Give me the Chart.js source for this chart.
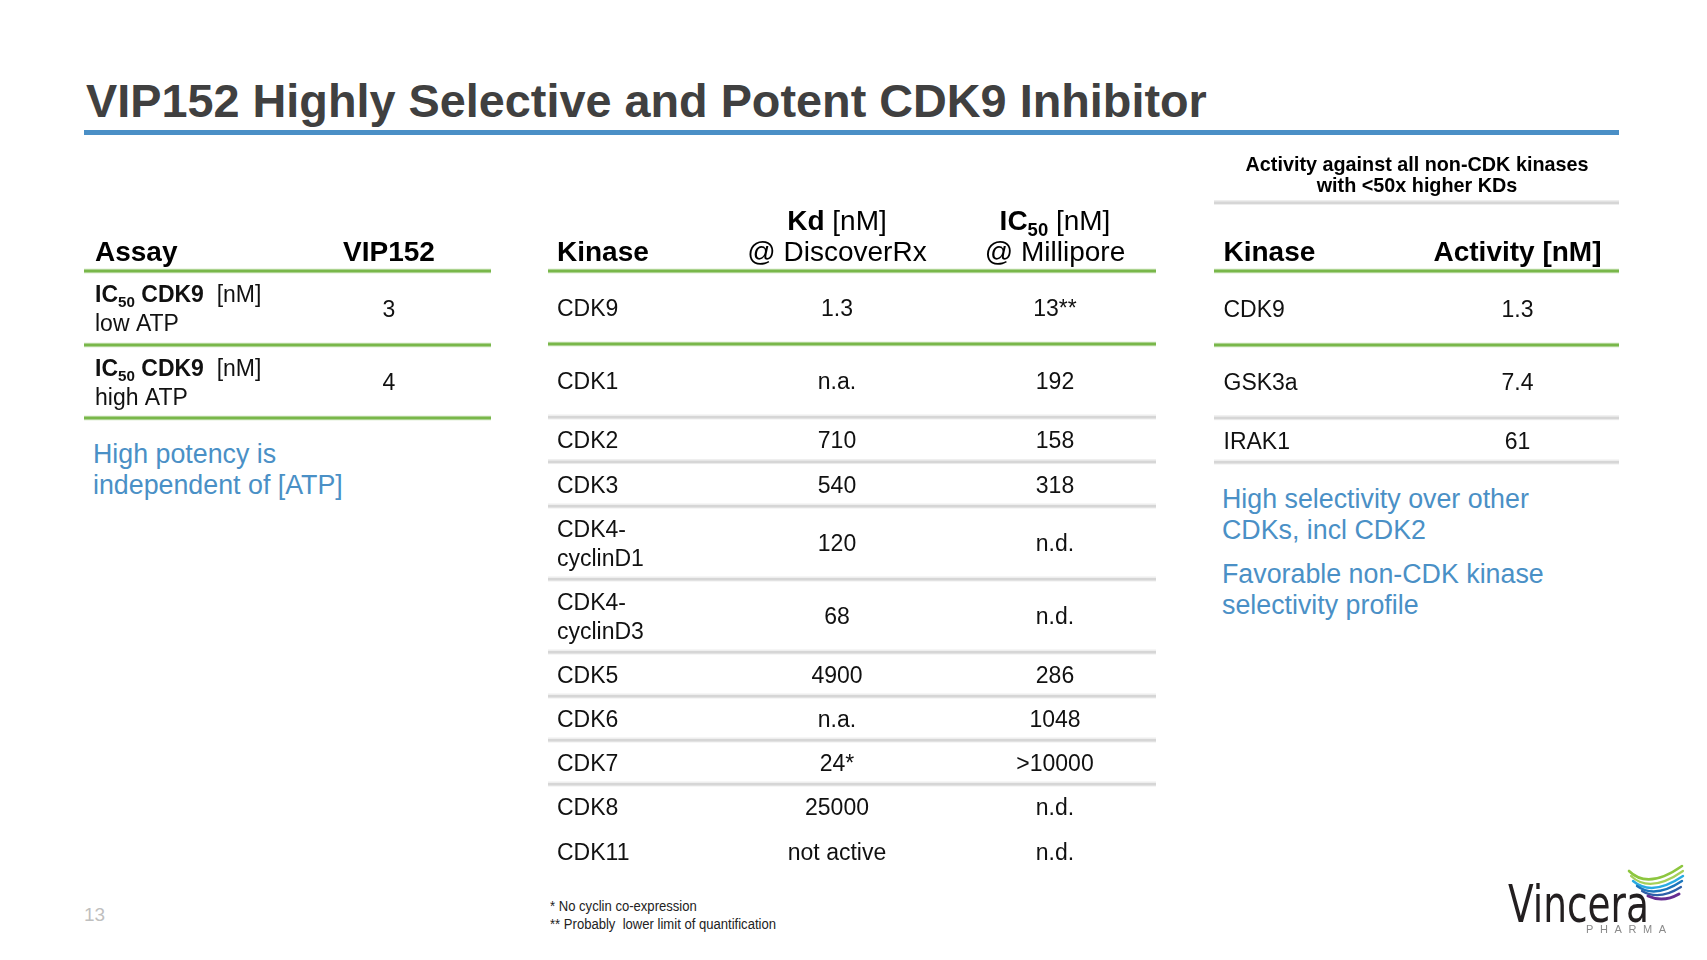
<!DOCTYPE html>
<html><head><meta charset="utf-8">
<script src="https://cdn.jsdelivr.net/npm/chart.js@4.4.1/dist/chart.umd.min.js"></script>
<style>
html,body{margin:0;padding:0;background:#fff;}
body{width:1707px;height:960px;position:relative;overflow:hidden;font-family:'Liberation Sans',Arial,sans-serif;}
.abs{position:absolute;white-space:nowrap;}
#title{left:86px;top:78.3px;font-size:46.8px;line-height:46.8px;font-weight:bold;color:#404040;}
#rule{left:84px;top:130px;width:1535px;height:5px;background:#4a8fc6;}
.note{font-size:26.8px;line-height:31px;color:#4a90c6;}
.foot{font-family:'Liberation Sans Narrow','Liberation Sans',Arial,sans-serif;font-size:14px;line-height:18px;color:#222;transform-origin:0 0;}
canvas{position:absolute;}
#logo{position:absolute;left:0;top:0;}
</style></head><body>
<div id="title" class="abs">VIP152 Highly Selective and Potent CDK9 Inhibitor</div>
<div id="rule" class="abs"></div>

<canvas id="tblAssay" width="408" height="232" style="left:84px;top:190px"></canvas>
<canvas id="tblCdk" width="612" height="700" style="left:547px;top:180px"></canvas>
<canvas id="tblNonCdk" width="408" height="340" style="left:1213px;top:130px"></canvas>

<div class="abs note" style="left:93px;top:439px">High potency is<br>independent of [ATP]</div>
<div class="abs note" style="left:1222px;top:483.5px">High selectivity over other<br>CDKs, incl CDK2</div>
<div class="abs note" style="left:1222px;top:558.5px">Favorable non-CDK kinase<br>selectivity profile</div>

<div id="foot" class="abs foot" style="left:550px;top:897px">* No cyclin co-expression<br>** Probably&nbsp; lower limit of quantification</div>
<div class="abs" style="left:84px;top:905px;font-size:19px;line-height:19px;color:#bfbfbf">13</div>

<svg id="logo" width="1707" height="960" viewBox="0 0 1707 960">
  <g fill="none" stroke-linecap="round">
    <path d="M1629 871 Q1648 890 1682 866" stroke="#8dc63f" stroke-width="2.6"/>
    <path d="M1631 876 Q1650 894 1683 871" stroke="#a6d05a" stroke-width="2.2"/>
    <path d="M1633 881 Q1652 897 1683 876" stroke="#29abe2" stroke-width="2.4"/>
    <path d="M1637 886 Q1655 899 1682 881" stroke="#1b75bc" stroke-width="2.4"/>
    <path d="M1642 891 Q1659 901 1681 887" stroke="#2e5fa8" stroke-width="2.2"/>
    <path d="M1648 896 Q1663 903 1679 894" stroke="#662d91" stroke-width="3"/>
  </g>
  <text x="1508" y="922" font-family="DejaVu Sans Condensed, DejaVu Sans" font-weight="normal" font-size="52" fill="#231f20" textLength="141" lengthAdjust="spacingAndGlyphs">Vincera</text>
  <text x="1586" y="933" font-family="Liberation Sans" font-size="11" fill="#8a8a8a" textLength="80" lengthAdjust="spacing">PHARMA</text>
</svg>

<script>
// ---------------- data ----------------
const assayHeaders = ['<b>Assay</b>', '<b>VIP152</b>'];
const assayRows = ['<b>IC<sub>50</sub> CDK9</b>  [nM]\nlow ATP', '<b>IC<sub>50</sub> CDK9</b>  [nM]\nhigh ATP'];
const vip152Values = ['3', '4'];

const cdkHeaders = ['<b>Kinase</b>', '<b>Kd</b> [nM]\n@ DiscoverRx', '<b>IC<sub>50</sub></b> [nM]\n@ Millipore'];
const cdkKinases = ['CDK9', 'CDK1', 'CDK2', 'CDK3', 'CDK4-\ncyclinD1', 'CDK4-\ncyclinD3', 'CDK5', 'CDK6', 'CDK7', 'CDK8', 'CDK11'];
const kdDiscoverRx = ['1.3', 'n.a.', '710', '540', '120', '68', '4900', 'n.a.', '24*', '25000', 'not active'];
const ic50Millipore = ['13**', '192', '158', '318', 'n.d.', 'n.d.', '286', '1048', '>10000', 'n.d.', 'n.d.'];

const nonCdkTitle = '<b>Activity against all non-CDK kinases</b>\n<b>with <50x higher KDs</b>';
const nonCdkHeaders = ['<b>Kinase</b>', '<b>Activity [nM]</b>'];
const nonCdkKinases = ['CDK9', 'GSK3a', 'IRAK1'];
const nonCdkActivity = ['1.3', '7.4', '61'];

// ---------------- layout / style ----------------
const FONT = '"Liberation Sans", Arial, sans-serif';
const BODY = 23, HEAD = 28;
const GREEN = '#79b74a';

function parseRich(s){
  return s.split('\n').map(line=>{
    const segs=[]; let bold=false, sub=false;
    line.split(/(<\/?b>|<\/?sub>)/).forEach(tok=>{
      if(tok==='<b>')bold=true; else if(tok==='</b>')bold=false;
      else if(tok==='<sub>')sub=true; else if(tok==='</sub>')sub=false;
      else if(tok) segs.push({t:tok,bold,sub});
    });
    return segs;
  });
}
function fontFor(g,size){ return (g.bold?'bold ':'')+(g.sub?size*0.66:size)+'px '+FONT; }
function drawLine(ctx,segs,x,y,align,size,color){
  let w=0;
  segs.forEach(g=>{ctx.font=fontFor(g,size); g.w=ctx.measureText(g.t).width; w+=g.w;});
  let cx = align==='center' ? x-w/2 : (align==='right' ? x-w : x);
  ctx.textAlign='left'; ctx.textBaseline='alphabetic'; ctx.fillStyle=color;
  segs.forEach(g=>{ctx.font=fontFor(g,size); ctx.fillText(g.t,cx,y+(g.sub?size*0.2:0)); cx+=g.w;});
}
function drawRule(ctx,x0,x1,y,kind){
  if(kind==='green'){
    ctx.fillStyle='rgba(121,183,74,0.22)'; ctx.fillRect(x0,y-2.5,x1-x0,5);
    ctx.fillStyle=GREEN; ctx.fillRect(x0,y-1.5,x1-x0,3);
  } else {
    ctx.fillStyle='#eeeeee'; ctx.fillRect(x0,y-2.5,x1-x0,5);
    ctx.fillStyle='#d6d6d6'; ctx.fillRect(x0,y-1,x1-x0,2.5);
  }
}

const tablePlugin = {
  id:'tableText',
  afterDatasetsDraw(chart){
    const ctx=chart.ctx, xs=chart.scales.x, ys=chart.scales.y;
    const spec=chart.options.plugins.tableText;
    ctx.save();
    spec.rules.forEach(([v,kind])=>{
      drawRule(ctx, xs.getPixelForValue(spec.lineX[0]), xs.getPixelForValue(spec.lineX[1]), ys.getPixelForValue(v), kind);
    });
    const pts=chart.data.datasets[0].data;
    chart.getDatasetMeta(0).data.forEach((el,i)=>{
      const c=pts[i]; const lines=parseRich(c.text); const n=lines.length;
      lines.forEach((segs,k)=>{
        const by = c.anchor==='bottom' ? el.y-(n-1-k)*c.lh : el.y+c.size*0.39+(k-(n-1)/2)*c.lh;
        drawLine(ctx,segs,el.x,by,c.align,c.size,c.color);
      });
    });
    ctx.restore();
  }
};

function buildTable(id, spec){
  const cv=document.getElementById(id);
  const W=cv.width, H=cv.height;
  const pts=[];
  spec.headers.forEach((h,j)=>{
    pts.push({x:spec.cols[j].x, y:spec.headerBase, text:h, size:HEAD, align:spec.cols[j].align, anchor:'bottom', lh:31, color:'#000'});
  });
  if(spec.title){
    pts.push({x:spec.title.x, y:spec.title.base, text:spec.title.text, size:spec.title.size, align:'center', anchor:'bottom', lh:spec.title.lh, color:'#000'});
  }
  spec.columns.forEach((colVals,j)=>{
    colVals.forEach((txt,r)=>{
      const e=spec.rowEdges;
      pts.push({x:spec.cols[j].x, y:(e[r]+e[r+1])/2, text:txt, size:BODY, align:spec.cols[j].align, anchor:'center', lh:29, color:'#111'});
    });
  });
  return new Chart(cv,{
    type:'scatter',
    data:{datasets:[{data:pts, pointRadius:0, pointHoverRadius:0}]},
    options:{
      responsive:false, animation:false, events:[],
      layout:{padding:0},
      plugins:{legend:{display:false}, tooltip:{enabled:false}, tableText:spec},
      scales:{
        x:{type:'linear', min:0, max:W, display:false},
        y:{type:'linear', min:0, max:H, reverse:true, display:false}
      }
    },
    plugins:[tablePlugin]
  });
}

buildTable('tblAssay',{
  cols:[{x:11,align:'left'},{x:305,align:'center'}],
  headers:assayHeaders, headerBase:71,
  columns:[assayRows, vip152Values],
  rowEdges:[81,155,228],
  lineX:[0,407],
  rules:[[81,'green'],[155,'green'],[228,'green']]
});

buildTable('tblCdk',{
  cols:[{x:10,align:'left'},{x:290,align:'center'},{x:508,align:'center'}],
  headers:cdkHeaders, headerBase:81,
  columns:[cdkKinases, kdDiscoverRx, ic50Millipore],
  rowEdges:[91,164,237,281.6,326,399,472,516,560,604,649,693],
  lineX:[1,609],
  rules:[[91,'green'],[164,'green'],[237,'gray'],[281.6,'gray'],[326,'gray'],[399,'gray'],[472,'gray'],[516,'gray'],[560,'gray'],[604,'gray']]
});

buildTable('tblNonCdk',{
  cols:[{x:10.5,align:'left'},{x:304.5,align:'center'}],
  headers:nonCdkHeaders, headerBase:131,
  title:{x:204, base:62.3, text:nonCdkTitle, size:19.8, lh:21.6},
  columns:[nonCdkKinases, nonCdkActivity],
  rowEdges:[141,215,287.7,332],
  lineX:[1,406],
  rules:[[72.5,'gray'],[141,'green'],[215,'green'],[287.7,'gray'],[332,'gray']]
});

(function(){
  const f=document.getElementById('foot');
  const w=f.getBoundingClientRect().width;
  if(w>240) f.style.transform='scaleX('+(226/w)+')';
})();
</script>
</body></html>
